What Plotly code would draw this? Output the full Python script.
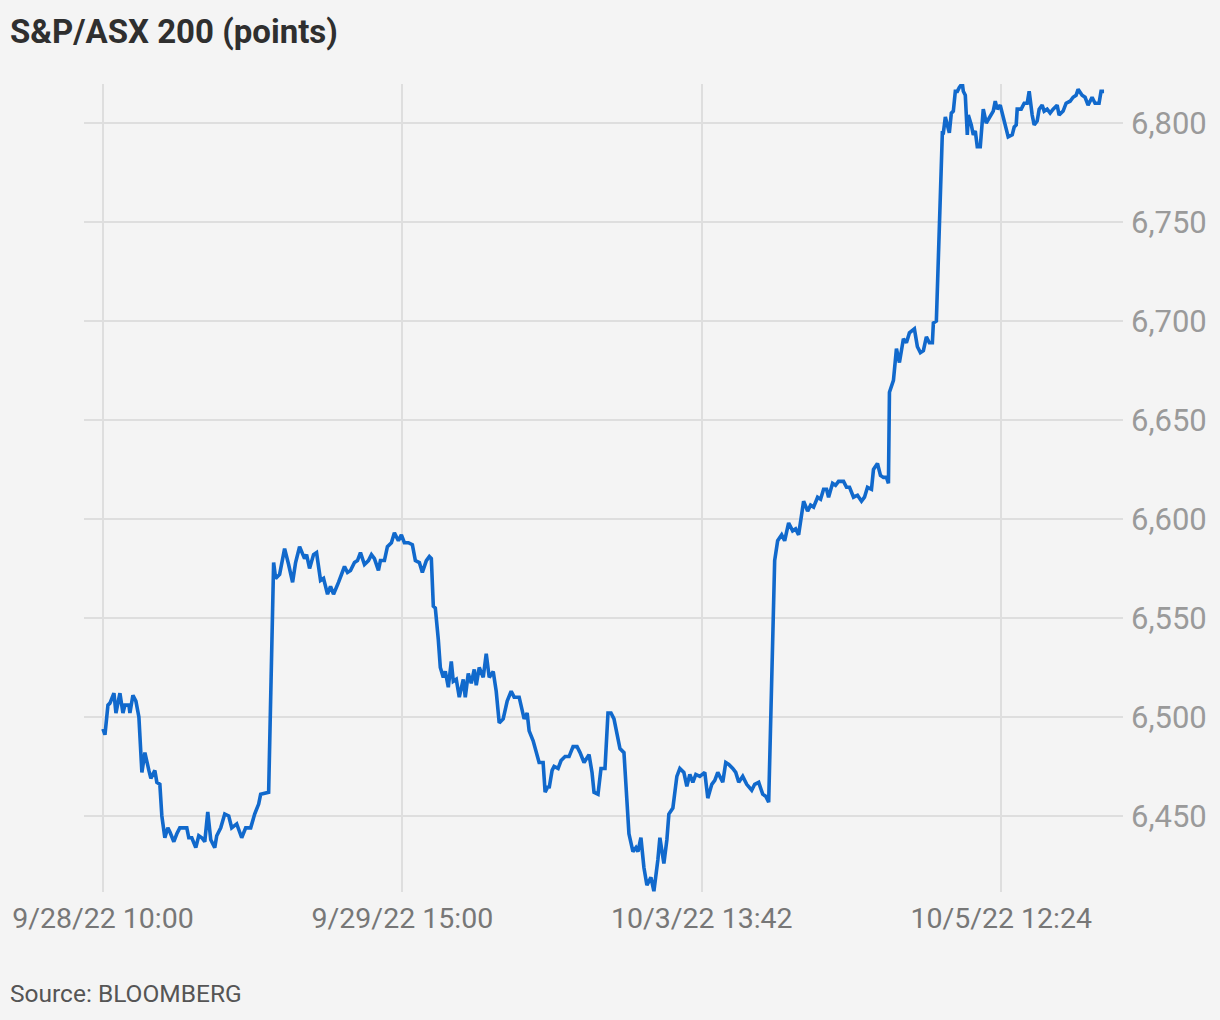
import plotly.graph_objects as go

# Observation index (evenly spaced sample number along the session-compressed time axis)
obs = [
    0, 2, 5, 7, 11, 13, 17, 20, 22, 26, 27, 30, 33, 36, 39, 42, 46, 48, 52, 54, 57, 59, 62, 65, 67,
    71, 74, 77, 81, 84, 86, 89, 93, 96, 99, 102, 105, 108, 112, 114, 118, 122, 126, 129, 134, 139,
    143, 148, 152, 156, 158, 166, 171, 173, 177, 182, 186, 190, 193, 197, 202, 204, 207, 211, 214,
    218, 221, 225, 228, 231, 236, 242, 245, 248, 252, 255, 258, 262, 266, 269, 272, 276, 278, 282,
    285, 289, 292, 296, 299, 302, 306, 310, 313, 317, 320, 324, 327, 329, 331, 333, 336, 338, 341,
    343, 346, 349, 351, 354, 357, 361, 363, 366, 369, 372, 374, 377, 381, 384, 387, 391, 394, 397,
    401, 405, 409, 412, 417, 422, 425, 427, 431, 434, 437, 441, 443, 446, 447, 450, 452, 456, 459,
    463, 467, 471, 475, 478, 482, 487, 490, 492, 496, 499, 503, 506, 509, 512, 516, 518, 522, 524,
    527, 531, 534, 536, 539, 542, 545, 549, 552, 556, 558, 562, 565, 567, 571, 575, 578, 582, 585,
    588, 591, 594, 598, 603, 606, 610, 613, 616, 621, 624, 627, 631, 634, 637, 641, 645, 650, 653,
    657, 661, 664, 667, 673, 676, 680, 683, 687, 691, 694, 697, 700, 702, 706, 709, 712, 716, 719,
    722, 725, 727, 731, 734, 737, 742, 745, 748, 752, 756, 760, 763, 766, 770, 772, 776, 779, 782,
    785, 787, 788, 792, 795, 798, 802, 805, 808, 813, 816, 819, 822, 825, 828, 831, 832, 835, 841,
    842, 844, 846, 848, 850, 852, 854, 856, 858, 861, 862, 864, 866, 867, 870, 872, 874, 876, 879,
    881, 882, 885, 888, 892, 894, 896, 899, 902, 905, 907, 911, 913, 915, 916, 920, 923, 926, 928,
    931, 933, 936, 938, 941, 943, 946, 949, 952, 956, 958, 962, 965, 969, 972, 975, 977, 981, 984,
    987, 991, 994, 998, 1000, 1003,
]

points = [
    6494, 6491, 6506, 6507, 6512, 6502, 6512, 6502, 6506, 6506, 6502, 6511, 6508, 6500, 6472, 6482,
    6473, 6469, 6473, 6467, 6466, 6450, 6439, 6444, 6442, 6437, 6441, 6444, 6444, 6444, 6439, 6439,
    6434, 6440, 6439, 6437, 6452, 6438, 6434, 6440, 6444, 6451, 6450, 6444, 6446, 6439, 6444, 6444,
    6451, 6456, 6461, 6462, 6578, 6570, 6572, 6585, 6577, 6568, 6578, 6586, 6580, 6582, 6575, 6582,
    6583, 6569, 6570, 6562, 6566, 6562, 6568, 6576, 6573, 6574, 6578, 6579, 6583, 6577, 6579, 6582,
    6580, 6574, 6579, 6579, 6586, 6588, 6593, 6589, 6592, 6588, 6588, 6587, 6579, 6578, 6573, 6579,
    6581, 6580, 6556, 6555, 6539, 6525, 6520, 6523, 6515, 6528, 6518, 6519, 6510, 6519, 6510, 6522,
    6517, 6524, 6516, 6525, 6520, 6532, 6520, 6523, 6513, 6497, 6499, 6508, 6513, 6510, 6510, 6499,
    6502, 6493, 6488, 6482, 6477, 6477, 6462, 6465, 6464, 6473, 6475, 6474, 6478, 6480, 6480, 6485,
    6485, 6482, 6477, 6481, 6472, 6462, 6461, 6474, 6474, 6502, 6502, 6499, 6489, 6484, 6482, 6462,
    6441, 6432, 6434, 6432, 6439, 6424, 6415, 6419, 6412, 6428, 6439, 6426, 6438, 6451, 6454, 6470,
    6474, 6472, 6465, 6471, 6467, 6471, 6470, 6472, 6459, 6466, 6468, 6472, 6467, 6477, 6476, 6474,
    6472, 6467, 6470, 6466, 6463, 6466, 6467, 6461, 6460, 6457, 6579, 6589, 6592, 6589, 6598, 6594,
    6595, 6592, 6601, 6609, 6604, 6607, 6606, 6611, 6610, 6615, 6615, 6611, 6618, 6617, 6619, 6619,
    6616, 6616, 6611, 6612, 6609, 6611, 6616, 6615, 6625, 6628, 6622, 6621, 6621, 6618, 6664, 6670,
    6686, 6679, 6691, 6689, 6694, 6696, 6687, 6684, 6685, 6692, 6689, 6689, 6699, 6700, 6795, 6795,
    6803, 6799, 6795, 6805, 6806, 6816, 6816, 6818, 6820, 6816, 6814, 6794, 6804, 6799, 6794, 6796,
    6788, 6788, 6802, 6807, 6800, 6803, 6806, 6811, 6807, 6809, 6803, 6798, 6793, 6794, 6798, 6799,
    6807, 6807, 6810, 6810, 6816, 6804, 6799, 6801, 6807, 6809, 6806, 6807, 6805, 6807, 6809, 6804,
    6806, 6810, 6811, 6813, 6814, 6817, 6814, 6813, 6809, 6813, 6810, 6810, 6816, 6816,
]

tick_obs = [0, 300, 600, 900]
tick_labels = ["9/28/22 10:00", "9/29/22 15:00", "10/3/22 13:42", "10/5/22 12:24"]
y_ticks = [6450, 6500, 6550, 6600, 6650, 6700, 6750, 6800]

title_text = "S&P/ASX 200 (points)"
source_text = "Source: BLOOMBERG"

BG = "#f4f4f4"
GRID = "#dedede"
LINE = "#1169cc"
FONT = "Roboto, 'Open Sans', sans-serif"

fig = go.Figure()
fig.add_trace(go.Scatter(
    x=obs, y=points, mode="lines",
    line=dict(color=LINE, width=3.6),
    hoverinfo="skip", showlegend=False,
))

fig.update_layout(
    width=1220, height=1020,
    paper_bgcolor=BG, plot_bgcolor=BG,
    margin=dict(l=82, r=97, t=84, b=128),
    font=dict(family=FONT),
    title=dict(
        text="<b>" + title_text + "</b>",
        font=dict(size=33, color="#2f2f2f", family=FONT),
        x=10 / 1220, xanchor="left", xref="container",
        y=1 - 31 / 1020, yanchor="middle", yref="container",
    ),
    xaxis=dict(
        range=[-19, 1022],
        tickvals=tick_obs, ticktext=tick_labels,
        showgrid=True, gridcolor=GRID, gridwidth=2,
        zeroline=False, showline=False, ticks="",
        tickfont=dict(size=28.5, color="#777777", family=FONT),
        ticklabelstandoff=6,
    ),
    yaxis=dict(
        range=[6411.6, 6819.7],
        side="right",
        tickvals=y_ticks, tickformat=",",
        showgrid=True, gridcolor=GRID, gridwidth=2,
        zeroline=False, showline=False, ticks="",
        tickfont=dict(size=31, color="#9a9a9a", family=FONT),
        ticklabelstandoff=7,
    ),
    annotations=[dict(
        text=source_text, showarrow=False,
        xref="paper", yref="paper",
        x=(6 - 82) / 1041, xanchor="left",
        y=(892 - 994) / 808, yanchor="middle",
        font=dict(size=24.5, color="#555555", family=FONT),
    )],
)

fig.write_html(
    "out.html",
    config={"displayModeBar": False},
    post_script="document.body.style.margin='0';document.body.style.background='#f4f4f4';",
)
